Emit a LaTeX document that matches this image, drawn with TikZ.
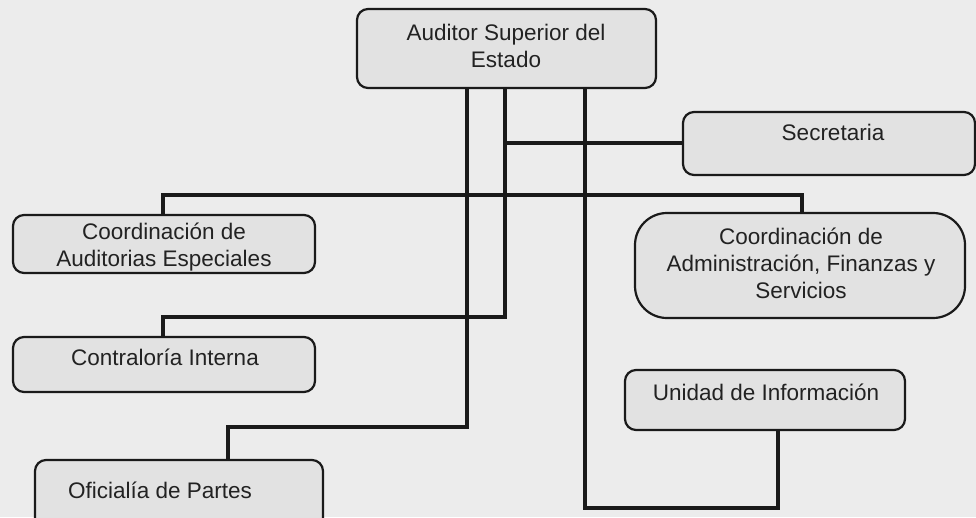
\documentclass[tikz,border=0pt]{standalone}
\usepackage{fontspec}
\setmainfont{Liberation Sans}
\definecolor{bgfill}{HTML}{ECECEC}
\definecolor{boxfill}{HTML}{E2E2E2}
\definecolor{linecol}{HTML}{1A1A1A}
\definecolor{textcol}{HTML}{222222}
\begin{document}
\begin{tikzpicture}[x=1pt,y=-1pt,
  box/.style={draw=linecol, line width=2.2pt, fill=boxfill, rounded corners=11pt, inner sep=0pt},
  txt/.style={text=textcol, font=\fontsize{22.5}{27}\selectfont, align=center, inner sep=0pt},
  conn/.style={draw=linecol, line width=3.6pt}]
\useasboundingbox (0,0) rectangle (976,517);
\clip (0,0) rectangle (976,517);
\fill[bgfill] (0,0) rectangle (976,517);

% boxes
\node[box, minimum width=299pt, minimum height=79pt] (aud) at (506.5,48.5) {};
\node[box, minimum width=292pt, minimum height=63pt] (sec) at (829,143.5) {};
\node[box, minimum width=302pt, minimum height=58pt] (cae) at (164,244) {};
\node[box, minimum width=330pt, minimum height=105pt, rounded corners=32pt] (cafs) at (800,265.5) {};
\node[box, minimum width=302pt, minimum height=55pt] (ci) at (164,364.5) {};
\node[box, minimum width=280pt, minimum height=60pt] (ui) at (765,400) {};
\node[box, minimum width=288pt, minimum height=70pt] (ofi) at (179,495) {};

% texts
\node[txt] (audt) at (506,46) {Auditor Superior del\\Estado};
\node[txt] (sect) at (833,132) {Secretaria};
\node[txt] (caet) at (164,247) {Coordinación de\\Auditorias Especiales};
\node[txt] (cafst) at (801,263) {Coordinación de\\Administración, Finanzas y\\Servicios};
\node[txt] (cit) at (165,357) {Contraloría Interna};
\node[txt] (uit) at (766,392) {Unidad de Información};
\node[txt] (ofit) at (160,490) {Oficialía de Partes};

% junctions
\coordinate (a1) at (467,427);
\coordinate (a2) at (228,427);
\coordinate (b1) at (505,317);
\coordinate (b2) at (163,317);
\coordinate (b3) at (505,143);
\coordinate (c1) at (585,508);
\coordinate (c2) at (778,508);
\coordinate (d1) at (163,195);
\coordinate (d2) at (802,195);

% connectors
\draw[conn] (aud.south -| a1) -- (a1) -- (a2) -- (ofi.north -| a2);
\draw[conn] (aud.south -| b1) -- (b1) -- (b2) -- (ci.north -| b2);
\draw[conn] (b3) -- (sec.west |- b3);
\draw[conn] (aud.south -| c1) -- (c1) -- (c2) -- (ui.south -| c2);
\draw[conn] (cae.north -| d1) -- (d1) -- (d2) -- (cafs.north -| d2);
\end{tikzpicture}
\end{document}
